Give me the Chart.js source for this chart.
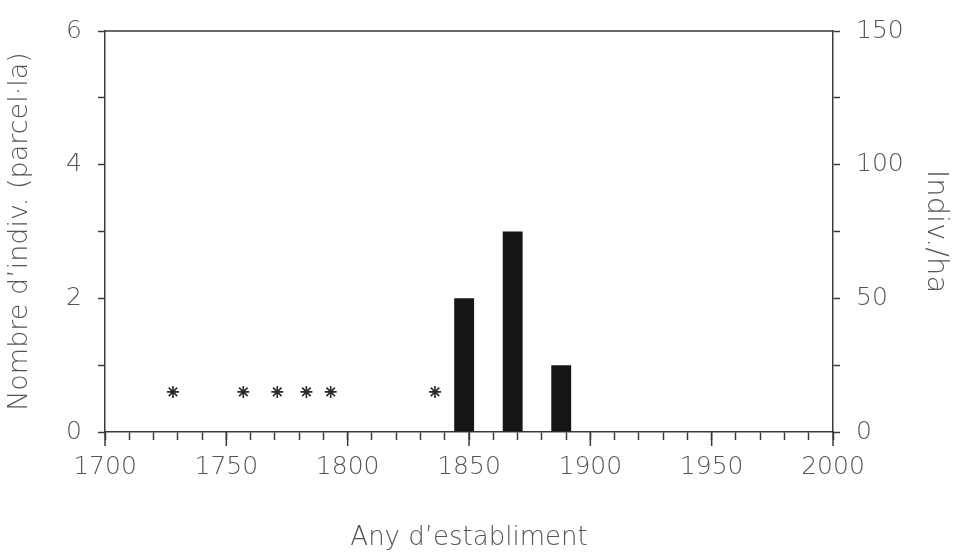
<!DOCTYPE html>
<html>
<head>
<meta charset="utf-8">
<script src="https://cdn.jsdelivr.net/npm/chart.js@4/dist/chart.umd.min.js"></script>
<style>
  body { margin: 0; background: #fff; }
  canvas { display: block; }
</style>
</head>
<body>
<canvas id="chart" width="953" height="556"></canvas>
<script>
// bars: individuals per plot by establishment year
const barYears = [1848, 1868, 1888];
const barCounts = [2, 3, 1];

// asterisks: isolated older individuals
const starYears = [1728, 1757, 1771, 1783, 1793, 1836];
const starLevel = [0.6, 0.6, 0.6, 0.6, 0.6, 0.6];

const majorYears = [1700, 1750, 1800, 1850, 1900, 1950, 2000];
const leftLabels = [0, 2, 4, 6];
const rightLabels = [0, 50, 100, 150];

const textColor = "#555555";
const lineColor = "#3a3a3a";
const fontFamily = "'DejaVu Sans', sans-serif";

const frameLines = {
  id: "frameLines",
  afterDraw(chart) {
    const { ctx, chartArea, scales } = chart;
    ctx.save();
    ctx.strokeStyle = lineColor;
    ctx.lineWidth = 1.5;
    ctx.beginPath();
    ctx.moveTo(chartArea.left, chartArea.top);
    ctx.lineTo(chartArea.right, chartArea.top);
    for (const yr of majorYears) {
      const px = scales.x.getPixelForValue(yr);
      ctx.moveTo(px, chartArea.bottom);
      ctx.lineTo(px, chartArea.bottom + 14);
    }
    ctx.stroke();
    ctx.restore();
  },
};

const tickGrid = {
  drawOnChartArea: false,
  drawTicks: true,
  tickLength: 7,
  tickColor: lineColor,
  tickWidth: 1.5,
};

const tickFont = { family: fontFamily, size: 25, weight: 200 };
const titleFont = { family: fontFamily, size: 27, weight: 200 };

new Chart(document.getElementById("chart"), {
  type: "bar",
  data: {
    datasets: [
      {
        type: "bar",
        data: barYears.map((x, i) => ({ x: x, y: barCounts[i] })),
        backgroundColor: "#161616",
        borderWidth: 0,
        categoryPercentage: 1,
        barPercentage: 0.82,
        yAxisID: "y",
      },
      {
        type: "scatter",
        data: starYears.map((x, i) => ({ x: x, y: starLevel[i] })),
        pointStyle: "star",
        radius: 6,
        borderColor: "#2a2a2a",
        borderWidth: 1.6,
        backgroundColor: "#2a2a2a",
        yAxisID: "y",
      },
    ],
  },
  options: {
    responsive: false,
    animation: false,
    layout: { padding: { top: 29, left: 0, right: 0, bottom: 0 } },
    plugins: {
      legend: { display: false },
      tooltip: { enabled: false },
    },
    scales: {
      x: {
        type: "linear",
        position: "bottom",
        offset: false,
        min: 1700,
        max: 2000,
        afterFit: (s) => { s.height = 124; },
        ticks: {
          stepSize: 10,
          autoSkip: false,
          maxRotation: 0,
          padding: 12,
          color: textColor,
          font: tickFont,
          callback: (v) => (majorYears.includes(v) ? String(v) : ""),
        },
        grid: { ...tickGrid, offset: false, tickLength: 8 },
        border: { display: true, color: lineColor, width: 1.5 },
        title: {
          display: true,
          text: "Any d’establiment",
          color: textColor,
          font: { family: fontFamily, size: 26, weight: 200 },
          padding: { top: 0, bottom: 2 },
        },
      },
      y: {
        type: "linear",
        position: "left",
        min: 0,
        max: 6,
        afterFit: (s) => { s.width = 105; },
        ticks: {
          stepSize: 1,
          padding: 16,
          color: textColor,
          font: tickFont,
          callback: (v) => (leftLabels.includes(v) ? String(v) : ""),
        },
        grid: tickGrid,
        border: { display: true, color: lineColor, width: 1.5 },
        title: {
          display: true,
          text: "Nombre d’indiv. (parcel·la)",
          color: textColor,
          font: titleFont,
          padding: { top: 4, bottom: 4 },
        },
      },
      y2: {
        type: "linear",
        position: "right",
        display: true,
        min: 0,
        max: 150,
        afterFit: (s) => { s.width = 120; },
        ticks: {
          stepSize: 25,
          padding: 16,
          color: textColor,
          font: tickFont,
          callback: (v) => (rightLabels.includes(v) ? String(v) : ""),
        },
        grid: tickGrid,
        border: { display: true, color: lineColor, width: 1.5 },
        title: {
          display: true,
          text: "Indiv./ha",
          color: textColor,
          font: { family: fontFamily, size: 29, weight: 200 },
          padding: { top: 0, bottom: 0 },
        },
      },
    },
  },
  plugins: [frameLines],
});
</script>
</body>
</html>
